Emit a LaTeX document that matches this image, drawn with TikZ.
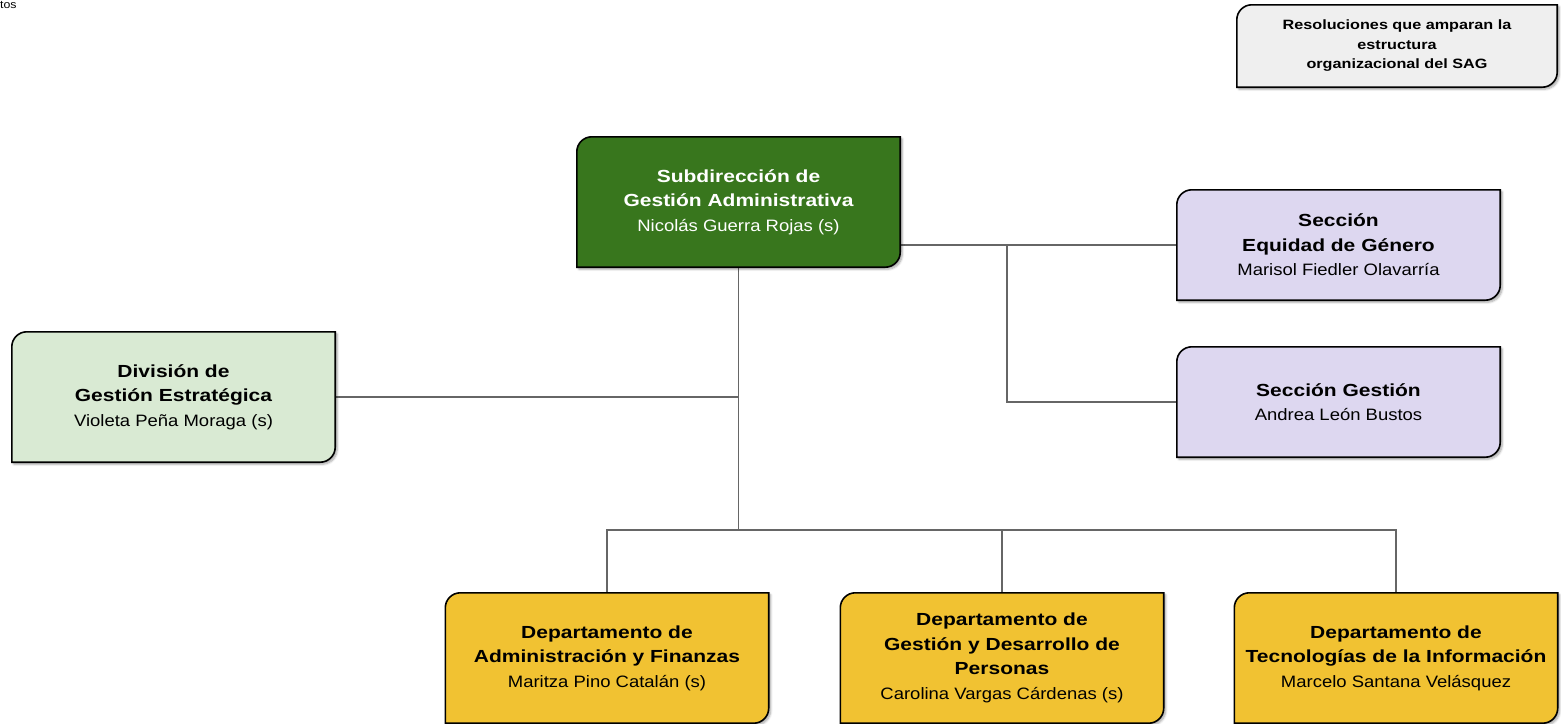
\documentclass[tikz,border=0pt]{standalone}
\usepackage{fontspec}
\setmainfont{Liberation Sans}[FakeStretch=1.12, BoldFeatures={FakeStretch=1.2}]
\usepackage{tikz}
\usetikzlibrary{positioning, backgrounds, shadows.blur}

\definecolor{subgreen}{HTML}{38761D}
\definecolor{divgreen}{HTML}{D9EAD3}
\definecolor{seclila}{HTML}{DDD7F0}
\definecolor{depyellow}{HTML}{F1C232}
\definecolor{resgray}{HTML}{EFEFEF}
\definecolor{linegray}{HTML}{666666}

% bold heading line of a unit
\newcommand\hd[1]{{\fontsize{17.5}{24.5}\selectfont\bfseries #1}}

% box outline: round top-left and bottom-right corners only
\newcommand\orgframe[2]{%
  \draw[frame, fill=#2] ([yshift=-15pt]#1.north west)
    arc[start angle=180, end angle=90, radius=15pt] -- (#1.north east)
    -- ([yshift=15pt]#1.south east)
    arc[start angle=0, end angle=-90, radius=15pt] -- (#1.south west) -- cycle;}

\begin{document}
\begin{tikzpicture}[x=1pt, y=-1pt,
    frame/.style={draw=black, line width=1.6pt,
      blur shadow={shadow xshift=2pt, shadow yshift=-2pt, shadow blur steps=6, shadow opacity=35}}]

    \useasboundingbox (0,0) rectangle (1561,723);

    \node[anchor=north west, inner sep=0, font=\fontsize{11}{13}\selectfont] (tos) at (0,1) {tos};

    % Add or remove units here, use the tuple for location
    \begin{scope}[every node/.style={minimum width=323pt, minimum height=130pt, inner sep=0,
        align=center, font=\fontsize{16.5}{24.5}\selectfont}]
    \node (res) at (1397,46) [minimum width=320pt, minimum height=82pt,
        font=\fontsize{13.5}{19.5}\selectfont\bfseries]
        {Resoluciones que amparan la\\estructura\\organizacional del SAG};
    \node[text=white] (sub) at (738.5,202) {\hd{Subdirección de}\\\hd{Gestión Administrativa}\\Nicolás Guerra Rojas (s)};
    \node (equ) at (1338.5,245) [minimum height=110pt] {\hd{Sección}\\\hd{Equidad de Género}\\Marisol Fiedler Olavarría};
    \node (ges) at (1338.5,402) [minimum height=110pt] {\hd{Sección Gestión}\\Andrea León Bustos};
    \node (div) at (173.5,397) {\hd{División de}\\\hd{Gestión Estratégica}\\Violeta Peña Moraga (s)};
    \node (adm) at (607,658) {\hd{Departamento de}\\\hd{Administración y Finanzas}\\Maritza Pino Catalán (s)};
    \node (per) at (1002,658) {\hd{Departamento de}\\\hd{Gestión y Desarrollo de}\\\hd{Personas}\\Carolina Vargas Cárdenas (s)};
    \node (tec) at (1396,658) {\hd{Departamento de}\\\hd{Tecnologías de la Información}\\Marcelo Santana Velásquez};
    \end{scope}

    \coordinate (jsec) at (1007,245);
    \coordinate (bus) at (738.5,530);

    \begin{scope}[on background layer]
    % lines
    \begin{scope}[every path/.style={draw=linegray, line width=1.4pt}]
    \path (equ.west) edge (equ.west -| sub.east);
    \draw (jsec) |- (ges.west);
    \path (div.east) edge (div.east -| sub.south);
    \path (sub.south) edge (bus);
    \draw (adm.north) |- (bus) -| (tec.north);
    \path (per.north) edge (per.north |- bus);
    \end{scope}

    % boxes
    \orgframe{res}{resgray}
    \orgframe{sub}{subgreen}
    \orgframe{equ}{seclila}
    \orgframe{ges}{seclila}
    \orgframe{div}{divgreen}
    \orgframe{adm}{depyellow}
    \orgframe{per}{depyellow}
    \orgframe{tec}{depyellow}
    \end{scope}

    \end{tikzpicture}
\end{document}
